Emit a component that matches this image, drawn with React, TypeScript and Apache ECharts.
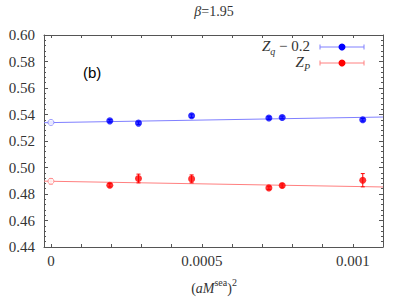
import React, { useEffect, useRef } from 'react';
import * as echarts from 'echarts';

// ---- data ----
const seaMassSq = [0.000195, 0.00029, 0.000466, 0.000722, 0.000766, 0.001033];
const zqMinus02 = [0.5352, 0.5335, 0.539, 0.5373, 0.5378, 0.536];
const zqErr = [0.001, 0.001, 0.0013, 0.001, 0.001, 0.001];
const zp = [0.4866, 0.4917, 0.4914, 0.4846, 0.4864, 0.4904];
const zpErr = [0.0013, 0.0033, 0.003, 0.0013, 0.0013, 0.005];

const chiralX = [0];
const zqChiral = [0.534];
const zqChiralErr = [0.0008];
const zpChiral = [0.4896];
const zpChiralErr = [0.002];

const fitX = [-0.000023, 0.0011];
const zqFit = [0.5338, 0.5381];
const zpFit = [0.4897, 0.4853];

const xTickValues = [0, 0.0001, 0.0002, 0.0003, 0.0004, 0.0005, 0.0006, 0.0007, 0.0008, 0.0009, 0.001];
const xLabelValues = [0, 0.0005, 0.001];
const yMin = 0.44;
const yMax = 0.6;
const yStep = 0.02;

const BLUE = '#0000ff';
const RED = '#ff0000';
const BLUE_LINE = '#8080ff';
const RED_LINE = '#ff8080';
const SERIF = 'Liberation Serif';
const AXIS = '#555';
const TXT = '#333';

function errRender(color: string) {
  return (params: any, api: any) => {
    const x = api.value(0);
    const y = api.value(1);
    const e = api.value(2);
    const lo = api.coord([x, y - e]);
    const hi = api.coord([x, y + e]);
    const c = 2;
    const st = { stroke: color, lineWidth: 1 };
    return {
      type: 'group',
      children: [
        { type: 'line', shape: { x1: lo[0], y1: lo[1], x2: hi[0], y2: hi[1] }, style: st },
        { type: 'line', shape: { x1: lo[0] - c, y1: lo[1], x2: lo[0] + c, y2: lo[1] }, style: st },
        { type: 'line', shape: { x1: hi[0] - c, y1: hi[1], x2: hi[0] + c, y2: hi[1] }, style: st },
      ],
    };
  };
}

function legendRow(y: number, color: string, lineColor: string, label: string, rich: any) {
  const st = { stroke: lineColor, lineWidth: 1 };
  return [
    { type: 'line', shape: { x1: 320, y1: y, x2: 364, y2: y }, style: st },
    { type: 'line', shape: { x1: 320, y1: y - 2.5, x2: 320, y2: y + 2.5 }, style: st },
    { type: 'line', shape: { x1: 364, y1: y - 2.5, x2: 364, y2: y + 2.5 }, style: st },
    { type: 'circle', shape: { cx: 342, cy: y, r: 3.5 }, style: { fill: color } },
    {
      type: 'text',
      x: 310,
      y: y,
      style: { text: label, rich, align: 'right', verticalAlign: 'middle', fill: TXT, fontFamily: SERIF },
    },
  ];
}

export default function App() {
  const ref = useRef<HTMLDivElement>(null);
  useEffect(() => {
    if (!ref.current) return;
    const chart = echarts.init(ref.current, null, { renderer: 'svg' });

    const legendRich = {
      i: { fontFamily: SERIF, fontStyle: 'italic', fontSize: 15, lineHeight: 18, verticalAlign: 'top', fill: TXT },
      n: { fontFamily: SERIF, fontSize: 15, lineHeight: 18, verticalAlign: 'top', fill: TXT },
      s: { fontFamily: SERIF, fontStyle: 'italic', fontSize: 10, lineHeight: 10, verticalAlign: 'bottom', fill: TXT },
    };

    const axisNameRich = {
      n: { fontFamily: SERIF, fontSize: 14, lineHeight: 18, verticalAlign: 'bottom', fill: TXT },
      i: { fontFamily: SERIF, fontStyle: 'italic', fontSize: 14, lineHeight: 18, verticalAlign: 'bottom', fill: TXT },
      u: { fontFamily: SERIF, fontSize: 10, lineHeight: 10, verticalAlign: 'top', fill: TXT },
    };

    const xAxisCommon = {
      type: 'value',
      min: fitX[0],
      max: fitX[1],
      axisLine: { show: true, onZero: false, lineStyle: { color: AXIS, width: 1 } },
      axisTick: { show: true, inside: true, length: 3, customValues: xTickValues, lineStyle: { color: AXIS } },
      splitLine: { show: false },
    };
    const yAxisCommon = {
      type: 'value',
      min: yMin,
      max: yMax,
      interval: yStep,
      axisLine: { show: true, onZero: false, lineStyle: { color: AXIS, width: 1 } },
      axisTick: { show: true, inside: true, length: 4, lineStyle: { color: AXIS } },
      minorTick: { show: true, splitNumber: 5, length: 2, lineStyle: { color: AXIS } },
      splitLine: { show: false },
    };

    chart.setOption({
      animation: false,
      backgroundColor: '#fff',
      textStyle: { fontFamily: SERIF },
      grid: { left: 44, right: 15, top: 35, bottom: 55 },
      xAxis: [
        {
          ...xAxisCommon,
          position: 'bottom',
          axisLabel: {
            show: true,
            customValues: xLabelValues,
            margin: 6,
            fontFamily: SERIF,
            fontSize: 15,
            color: TXT,
            formatter: (v: number) => (v === 0 ? '0' : String(v)),
          },
        },
        { ...xAxisCommon, position: 'top', axisLabel: { show: false } },
      ],
      yAxis: [
        {
          ...yAxisCommon,
          position: 'left',
          axisLabel: {
            show: true,
            margin: 9,
            fontFamily: SERIF,
            fontSize: 15,
            color: TXT,
            formatter: (v: number) => v.toFixed(2),
          },
        },
        { ...yAxisCommon, position: 'right', axisLabel: { show: false } },
      ],
      graphic: [
        {
          type: 'text',
          x: 214,
          y: 11,
          style: {
            text: '{i|β}{n|=1.95}',
            align: 'center',
            verticalAlign: 'middle',
            fontFamily: SERIF,
            rich: {
              i: { fontFamily: SERIF, fontStyle: 'italic', fontSize: 14, fill: TXT },
              n: { fontFamily: SERIF, fontSize: 14, fill: TXT },
            },
          },
        },
        {
          type: 'text',
          x: 83,
          y: 72,
          style: {
            text: '(b)',
            fontFamily: 'Liberation Sans',
            fontSize: 15,
            fill: '#000',
            align: 'left',
            verticalAlign: 'middle',
          },
        },
        {
          type: 'text',
          x: 214,
          y: 286,
          style: {
            text: '{n|(}{i|aM}{u|sea}{n|)}{u|2}',
            rich: axisNameRich,
            fontFamily: SERIF,
            align: 'center',
            verticalAlign: 'middle',
          },
        },
        ...legendRow(47, BLUE, BLUE_LINE, '{i|Z}{s|q}{n| − 0.2}', legendRich),
        ...legendRow(63, RED, RED_LINE, '{i|Z}{s|P}', legendRich),
      ],
      series: [
        {
          type: 'line',
          data: fitX.map((x, i) => [x, zqFit[i]]),
          symbol: 'none',
          lineStyle: { color: BLUE_LINE, width: 1 },
          z: 1,
        },
        {
          type: 'line',
          data: fitX.map((x, i) => [x, zpFit[i]]),
          symbol: 'none',
          lineStyle: { color: RED_LINE, width: 1 },
          z: 1,
        },
        {
          type: 'custom',
          renderItem: errRender(BLUE),
          data: seaMassSq.map((x, i) => [x, zqMinus02[i], zqErr[i]]),
          encode: { x: 0, y: 1 },
          z: 2,
        },
        {
          type: 'custom',
          renderItem: errRender(RED),
          data: seaMassSq.map((x, i) => [x, zp[i], zpErr[i]]),
          encode: { x: 0, y: 1 },
          z: 2,
        },
        {
          type: 'custom',
          renderItem: errRender(BLUE_LINE),
          data: chiralX.map((x, i) => [x, zqChiral[i], zqChiralErr[i]]),
          encode: { x: 0, y: 1 },
          z: 2,
        },
        {
          type: 'custom',
          renderItem: errRender(RED_LINE),
          data: chiralX.map((x, i) => [x, zpChiral[i], zpChiralErr[i]]),
          encode: { x: 0, y: 1 },
          z: 2,
        },
        {
          type: 'scatter',
          data: seaMassSq.map((x, i) => [x, zqMinus02[i]]),
          symbol: 'circle',
          symbolSize: 7,
          itemStyle: { color: BLUE },
          z: 3,
        },
        {
          type: 'scatter',
          data: seaMassSq.map((x, i) => [x, zp[i]]),
          symbol: 'circle',
          symbolSize: 7,
          itemStyle: { color: RED },
          z: 3,
        },
        {
          type: 'scatter',
          data: chiralX.map((x, i) => [x, zqChiral[i]]),
          symbol: 'circle',
          symbolSize: 6,
          itemStyle: { color: '#fff', borderColor: BLUE_LINE, borderWidth: 1 },
          z: 3,
        },
        {
          type: 'scatter',
          data: chiralX.map((x, i) => [x, zpChiral[i]]),
          symbol: 'circle',
          symbolSize: 6,
          itemStyle: { color: '#fff', borderColor: RED_LINE, borderWidth: 1 },
          z: 3,
        },
      ],
    });
    return () => chart.dispose();
  }, []);

  return (
    <div
      ref={ref}
      style={{ position: 'fixed', left: 0, top: 0, width: 398, height: 302 }}
    />
  );
}
